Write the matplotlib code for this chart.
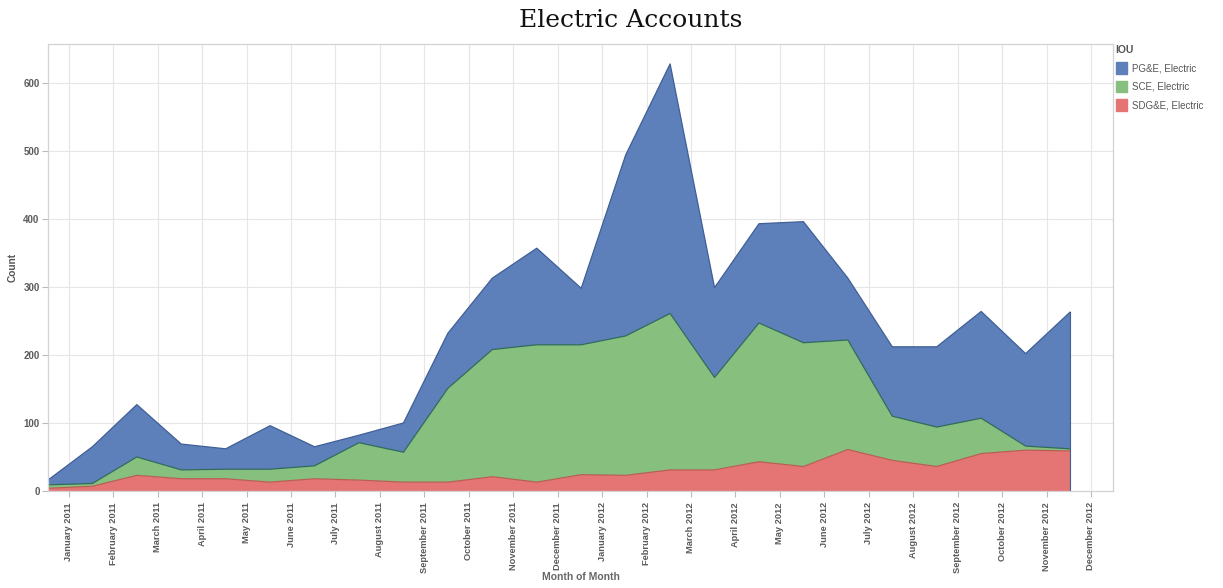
import numpy as np
import matplotlib
matplotlib.use("Agg")
import matplotlib.pyplot as plt
from matplotlib.patches import Patch

plt.rcParams['font.family'] = ['Liberation Sans', 'DejaVu Sans']

months = ['January 2011', 'February 2011', 'March 2011', 'April 2011', 'May 2011',
          'June 2011', 'July 2011', 'August 2011', 'September 2011', 'October 2011',
          'November 2011', 'December 2011', 'January 2012', 'February 2012',
          'March 2012', 'April 2012', 'May 2012', 'June 2012', 'July 2012',
          'August 2012', 'September 2012', 'October 2012', 'November 2012',
          'December 2012']

# monthly counts per utility
sdge = [4, 7, 23, 18, 18, 13, 18, 16, 13, 13, 21, 13, 24, 23, 31, 31, 43, 36, 61, 45, 36, 55, 60, 59]
sce = [5, 4, 27, 13, 14, 19, 19, 55, 44, 138, 187, 202, 191, 205, 230, 136, 204, 182, 161, 65, 58, 52, 6, 3]
pge = [7, 54, 77, 38, 30, 64, 28, 11, 43, 81, 105, 142, 83, 266, 367, 132, 146, 178, 91, 102, 118, 157, 136, 201]

col_pge = '#5d7fba'
col_sce = '#87c07e'
col_sdge = '#e47574'

# each point sits half a month before its month tick
x = np.arange(len(sdge)) - 0.47

fig = plt.figure(figsize=(12.23, 5.88), dpi=100)
ax = fig.add_axes([0.0392, 0.165, 0.871, 0.761])

ax.stackplot(x, sdge, sce, pge, colors=[col_sdge, col_sce, col_pge], linewidth=0)
c1 = np.array(sdge)
c2 = c1 + np.array(sce)
c3 = c2 + np.array(pge)
ax.plot(x, c1, color='#b85f55', lw=0.9)
ax.plot(x, c2, color='#2f6b5c', lw=0.9)
ax.plot(x, c3, color='#3f5f96', lw=0.9)
ax.plot([x[-1], x[-1]], [0, c3[-1]], color='#3f5f96', lw=0.8)

ax.set_xlim(-0.47, 23.5)
ax.set_ylim(0, 658)
ax.set_xticks(np.arange(len(months)))
ax.set_xticklabels(months, rotation=90, fontsize=6.7, fontweight='bold', color='#5a5a5a')
ax.set_yticks(range(0, 601, 100))
ax.set_yticklabels([str(v) for v in range(0, 601, 100)], fontsize=7,
                   fontweight='bold', color='#5a5a5a')
ax.tick_params(axis='x', length=4, color='#bbbbbb', pad=4)
ax.tick_params(axis='y', length=4, color='#bbbbbb', pad=2)

ax.grid(True, color='#e6e6e6', lw=0.8)
ax.set_axisbelow(True)
for s in ax.spines.values():
    s.set_color('#d2d2d2')
    s.set_linewidth(0.9)

ax.set_ylabel('Count', fontsize=7.3, fontweight='bold', color='#555555', labelpad=4)
fig.text(0.475, 0.018, 'Month of Month', ha='center', va='center',
         fontsize=7.5, fontweight='bold', color='#666666')

fig.text(0.516, 0.965, 'Electric Accounts', ha='center', va='center',
         fontsize=18, family='DejaVu Serif', color='#111111')

handles = [Patch(color=col_pge, label='PG&E, Electric'),
           Patch(color=col_sce, label='SCE, Electric'),
           Patch(color=col_sdge, label='SDG&E, Electric')]
leg = fig.legend(handles=handles, title='IOU', loc='upper left',
                 bbox_to_anchor=(0.909, 0.93), frameon=False, fontsize=7,
                 title_fontsize=7.5, handlelength=1.15, handleheight=1.4,
                 handletextpad=0.5, labelspacing=0.75, borderaxespad=0)
leg._legend_box.align = 'left'
leg.get_title().set_fontweight('bold')
leg.get_title().set_color('#555555')
for t in leg.get_texts():
    t.set_color('#555555')

fig.savefig('out.png', dpi=100)
